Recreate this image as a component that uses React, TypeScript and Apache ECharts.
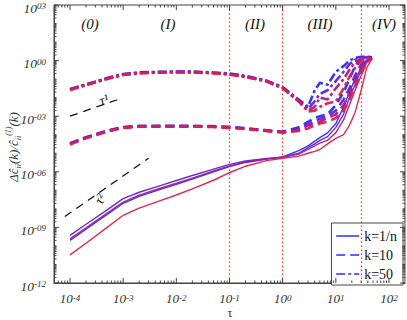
import React, { useEffect, useRef } from 'react';
import * as echarts from 'echarts';

// time grid (tau)
const TAU = [1e-4, 2e-4, 5e-4, 1e-3, 2e-3, 5e-3, 1e-2, 2e-2, 5e-2, 0.1, 0.2, 0.5, 1, 2, 3, 4, 5, 7, 10, 14, 18, 23, 30, 38, 48];

// k = 1/n (solid)
const SOLID_BLUE = [2e-10, 7.9e-10, 5e-9, 2e-8, 4.7e-8, 1.12e-7, 2.1e-7, 4e-7, 1e-6, 1.9e-6, 3.2e-6, 4.8e-6, 6.3e-6, 1.4e-5, 2.5e-5, 4.5e-5, 7e-5, 1.26e-4, 4e-4, 3.2e-3, 2e-2, 0.1, 0.4, 1.1, 1.4];
const SOLID_PURPLE = [3.7e-10, 1.48e-9, 8.9e-9, 3.55e-8, 7.9e-8, 1.8e-7, 3.4e-7, 6.3e-7, 1.4e-6, 2.5e-6, 3.8e-6, 5.2e-6, 6e-6, 1e-5, 2e-5, 3.2e-5, 5e-5, 7.9e-5, 2.5e-4, 1.3e-3, 1e-2, 5e-2, 0.32, 1, 1.4];
const SOLID_MAGENTA = [2.4e-10, 9.5e-10, 6e-9, 2.3e-8, 5.5e-8, 1.3e-7, 2.4e-7, 4.6e-7, 1.1e-6, 2.1e-6, 3.4e-6, 5e-6, 6.3e-6, 9e-6, 1.6e-5, 2.5e-5, 3.5e-5, 5e-5, 1.3e-4, 6.3e-4, 4e-3, 2.5e-2, 0.16, 0.8, 1.4];
const SOLID_RED = [3.3e-11, 1.4e-10, 1e-9, 4.5e-9, 1.1e-8, 2.8e-8, 5.6e-8, 1.2e-7, 3.5e-7, 8.9e-7, 2e-6, 4e-6, 5.4e-6, 7e-6, 1e-5, 1.26e-5, 1.6e-5, 3.2e-5, 6.3e-5, 1e-4, 3.2e-4, 1.6e-3, 2.5e-2, 0.4, 1.26];

// k = 10 (dashed)
const DASH_BLUE = [3.5e-5, 7.4e-5, 1.7e-4, 2.6e-4, 3e-4, 3.05e-4, 3.05e-4, 3.05e-4, 2.9e-4, 2.65e-4, 2.25e-4, 1.75e-4, 1.45e-4, 2.5e-4, 5e-4, 8e-4, 1e-3, 1.26e-3, 4e-3, 2e-2, 0.1, 0.5, 1.26, 1.6, 1.5];
const DASH_PURPLE = [3.3e-5, 7e-5, 1.6e-4, 2.5e-4, 2.85e-4, 2.9e-4, 2.9e-4, 2.9e-4, 2.75e-4, 2.5e-4, 2.15e-4, 1.66e-4, 1.4e-4, 2e-4, 3.5e-4, 5.6e-4, 7e-4, 1e-3, 2e-3, 8e-3, 3.2e-2, 0.16, 0.63, 1.26, 1.4];
const DASH_MAGENTA = [3.2e-5, 6.8e-5, 1.55e-4, 2.45e-4, 2.8e-4, 2.85e-4, 2.85e-4, 2.85e-4, 2.7e-4, 2.45e-4, 2.1e-4, 1.62e-4, 1.35e-4, 1.8e-4, 3.2e-4, 4e-4, 5e-4, 8e-4, 1.26e-3, 4e-3, 1.6e-2, 8e-2, 0.4, 1, 1.4];
const DASH_RED = [3e-5, 6.5e-5, 1.5e-4, 2.35e-4, 2.7e-4, 2.75e-4, 2.75e-4, 2.75e-4, 2.6e-4, 2.35e-4, 2e-4, 1.58e-4, 1.3e-4, 1.6e-4, 2.2e-4, 3.2e-4, 4e-4, 5e-4, 8e-4, 2e-3, 8e-3, 4e-2, 0.2, 0.8, 1.3];

// k = 50 (dash-dot)
const DDOT_BLUE = [2.9e-2, 5.2e-2, 0.115, 0.19, 0.23, 0.25, 0.255, 0.255, 0.23, 0.2, 0.15, 8.3e-2, 3.7e-2, 7.9e-3, 3.2e-3, 2.5e-2, 6.3e-2, 5e-2, 0.25, 0.5, 1, 1.4, 1.6, 1.6, 1.5];
const DDOT_PURPLE = [2.8e-2, 5e-2, 0.11, 0.18, 0.22, 0.24, 0.245, 0.245, 0.22, 0.19, 0.14, 7.9e-2, 3.5e-2, 7e-3, 2.5e-3, 6.3e-3, 1.6e-2, 2.5e-2, 7.9e-2, 0.25, 0.63, 1.1, 1.4, 1.5, 1.45];
const DDOT_MAGENTA = [2.7e-2, 4.9e-2, 0.107, 0.175, 0.215, 0.235, 0.24, 0.24, 0.215, 0.185, 0.135, 7.7e-2, 3.4e-2, 6.3e-3, 2e-3, 3.2e-3, 1e-2, 7.9e-3, 3.2e-2, 0.1, 0.32, 0.8, 1.26, 1.4, 1.4];
const DDOT_RED = [2.6e-2, 4.7e-2, 0.103, 0.17, 0.205, 0.225, 0.23, 0.23, 0.205, 0.175, 0.13, 7.4e-2, 3.2e-2, 6.3e-3, 1.8e-3, 2e-3, 3.2e-3, 5e-3, 6.3e-3, 3.2e-2, 0.13, 0.4, 1, 1.3, 1.38];

// reference slopes
const REF1_TAU = [1e-4, 9e-4];
const REF1_VAL = [1e-3, 9e-3];
const REF2_TAU = [8e-5, 3e-3];
const REF2_VAL = [3.84e-9, 5.4e-6];

// regime boundaries and labels
const REGION_BOUNDS = [1e-3, 1e-1, 1, 30];
const REGION_LABELS = ['(0)', '(I)', '(II)', '(III)', '(IV)'];

// axes
const X_MIN = 5e-5;
const X_MAX = 200;
const Y_MIN = 1e-12;
const Y_MAX = 1e3;
const X_MAJOR = [1e-4, 1e-3, 1e-2, 1e-1, 1, 10, 100];
const Y_LABELED = [1e-12, 1e-9, 1e-6, 1e-3, 1, 1e3];
const LEGEND_NAMES = ['k=1/n', 'k=10', 'k=50'];
const COLORS = ['#2b2bff', '#6a1fd6', '#a51c8c', '#dc1e4c'];

const SERIF = 'Liberation Serif, DejaVu Serif, serif';

function minorTicks(lo: number, hi: number, eFrom: number, eTo: number, skip: number[]) {
  const out: number[] = [];
  for (let e = eFrom; e <= eTo; e++) {
    for (let m = 1; m <= 9; m++) {
      const v = m * Math.pow(10, e);
      if (v <= lo * 1.0001 || v >= hi * 0.9999) continue;
      if (skip.some((s) => Math.abs(Math.log10(s) - Math.log10(v)) < 1e-6)) continue;
      out.push(v);
    }
  }
  return out;
}

const X_MINOR = minorTicks(X_MIN, X_MAX, -5, 2, X_MAJOR);
const Y_MINOR = minorTicks(Y_MIN, Y_MAX, -12, 2, Y_LABELED);

function fmtY(v: number) {
  const e = Math.round(Math.log10(v));
  const s = String(Math.abs(e)).padStart(2, '0');
  return (e < 0 ? '-' : '') + s;
}

const labelRich = {
  b: { fontFamily: SERIF, fontStyle: 'italic', fontSize: 13.5, lineHeight: 13, fill: '#333', color: '#333' },
  s: { fontFamily: SERIF, fontStyle: 'italic', fontSize: 9, lineHeight: 9, verticalAlign: 'top', fill: '#333', color: '#333' },
};
const xLabelRich = {
  b: { ...labelRich.b, fontSize: 13, lineHeight: 11 },
  s: { ...labelRich.s, lineHeight: 8 },
};

function mkLine(name: string, vals: number[], color: string, kind: string) {
  return {
    type: 'line',
    name,
    data: TAU.map((t, i) => [t, vals[i]]),
    showSymbol: false,
    symbol: 'none',
    silent: true,
    itemStyle: { color },
    lineStyle: {
      color,
      width: kind === 'solid' ? 1.4 : 2.6,
      type: kind === 'solid' ? 'solid' : kind === 'dashed' ? [9, 5] : [9, 3, 3, 3],
      opacity: 0.95,
    },
    z: 3,
  };
}

function buildOption() {
  const groups = [
    { name: LEGEND_NAMES[0], kind: 'solid', sets: [SOLID_BLUE, SOLID_PURPLE, SOLID_MAGENTA, SOLID_RED] },
    { name: LEGEND_NAMES[1], kind: 'dashed', sets: [DASH_BLUE, DASH_PURPLE, DASH_MAGENTA, DASH_RED] },
    { name: LEGEND_NAMES[2], kind: 'dashdot', sets: [DDOT_BLUE, DDOT_PURPLE, DDOT_MAGENTA, DDOT_RED] },
  ];
  const series: any[] = [];
  groups.forEach((g) => g.sets.forEach((s, i) => series.push(mkLine(g.name, s, COLORS[i], g.kind))));

  series.push({
    type: 'line',
    name: 'ref1',
    data: REF1_TAU.map((t, i) => [t, REF1_VAL[i]]),
    showSymbol: false,
    symbol: 'none',
    silent: true,
    lineStyle: { color: '#111', width: 1.3, type: [8, 6] },
    z: 2,
    markLine: {
      silent: true,
      symbol: 'none',
      label: { show: false },
      lineStyle: { color: '#ff2a2a', width: 1.2, type: [1.5, 2.5] },
      data: REGION_BOUNDS.map((v) => ({ xAxis: v })),
    },
  });
  series.push({
    type: 'line',
    name: 'ref2',
    data: REF2_TAU.map((t, i) => [t, REF2_VAL[i]]),
    showSymbol: false,
    symbol: 'none',
    silent: true,
    lineStyle: { color: '#111', width: 1.3, type: [8, 6] },
    z: 2,
  });

  // ticks on all four sides (x)
  const xTickData = [...X_MAJOR.map((v) => [v, Y_MIN, 1]), ...X_MINOR.map((v) => [v, Y_MIN, 0])];
  series.push({
    type: 'custom',
    name: 'xticks',
    silent: true,
    clip: false,
    z: 6,
    encode: { x: 0, y: 1 },
    data: xTickData,
    renderItem: (_p: any, api: any) => {
      const v = api.value(0);
      const major = api.value(2) === 1;
      const len = major ? 5 : 2.5;
      const b = api.coord([v, Y_MIN]);
      const t = api.coord([v, Y_MAX]);
      const st = { stroke: '#444', lineWidth: 1 };
      return {
        type: 'group',
        children: [
          { type: 'line', shape: { x1: b[0], y1: b[1], x2: b[0], y2: b[1] - len }, style: st },
          { type: 'line', shape: { x1: t[0], y1: t[1], x2: t[0], y2: t[1] + len }, style: st },
        ],
      };
    },
  });

  // ticks and labels (y)
  const yTickData = [...Y_LABELED.map((v) => [X_MIN, v, 1]), ...Y_MINOR.map((v) => [X_MIN, v, 0])];
  series.push({
    type: 'custom',
    name: 'yticks',
    silent: true,
    clip: false,
    z: 6,
    encode: { x: 0, y: 1 },
    data: yTickData,
    renderItem: (_p: any, api: any) => {
      const v = api.value(1);
      const major = api.value(2) === 1;
      const len = major ? 5 : 2.5;
      const l = api.coord([X_MIN, v]);
      const r = api.coord([X_MAX, v]);
      const st = { stroke: '#444', lineWidth: 1 };
      const children: any[] = [
        { type: 'line', shape: { x1: l[0], y1: l[1], x2: l[0] + len, y2: l[1] }, style: st },
        { type: 'line', shape: { x1: r[0], y1: r[1], x2: r[0] - len, y2: r[1] }, style: st },
      ];
      if (major) {
        children.push({
          type: 'text',
          x: l[0] - 8,
          y: l[1] + 3,
          style: {
            text: `{b|10}{s|${fmtY(v)}}`,
            rich: labelRich,
            align: 'right',
            verticalAlign: 'middle',
            textAlign: 'right',
            textVerticalAlign: 'middle',
          },
        });
      }
      return { type: 'group', children };
    },
  });

  const regionX = [90, 168, 255, 320, 384];
  const graphic: any[] = REGION_LABELS.map((t, i) => ({
    type: 'text',
    x: regionX[i],
    y: 24,
    silent: true,
    style: {
      text: t,
      fontFamily: SERIF,
      fontStyle: 'italic',
      fontSize: 15,
      fill: '#111',
      align: 'center',
      verticalAlign: 'middle',
    },
  }));
  graphic.push({
    type: 'text',
    x: 104,
    y: 100,
    rotation: 0.35,
    silent: true,
    style: { text: 'τ¹', fontFamily: SERIF, fontStyle: 'italic', fontSize: 14, fill: '#111', align: 'center', verticalAlign: 'middle' },
  });
  graphic.push({
    type: 'text',
    x: 100,
    y: 199,
    rotation: 1.1,
    silent: true,
    style: { text: 'τ²', fontFamily: SERIF, fontStyle: 'italic', fontSize: 14, fill: '#111', align: 'center', verticalAlign: 'middle' },
  });
  graphic.push({
    type: 'text',
    x: 230,
    y: 313,
    silent: true,
    style: { text: 'τ', fontFamily: SERIF, fontSize: 12, fill: '#333', align: 'center', verticalAlign: 'middle' },
  });
  const yr = {
    m: { fontFamily: SERIF, fontStyle: 'italic', fontSize: 13, lineHeight: 18, fill: '#333' },
    sb: { fontFamily: SERIF, fontStyle: 'italic', fontSize: 8, lineHeight: 18, verticalAlign: 'bottom', fill: '#333' },
    sp: { fontFamily: SERIF, fontStyle: 'italic', fontSize: 8, lineHeight: 18, verticalAlign: 'top', fill: '#333' },
  };
  graphic.push({
    type: 'text',
    x: 13,
    y: 147,
    rotation: Math.PI / 2,
    silent: true,
    style: {
      text: '{m|Δĉ}{sb|ii}{m|(k)/ĉ}{sb|ii}{sp|(1)}{m|(k)}',
      rich: yr,
      align: 'center',
      verticalAlign: 'middle',
    },
  });

  return {
    animation: false,
    backgroundColor: '#fff',
    grid: { left: 54, right: 2, top: 5, bottom: 37, containLabel: false, show: true, borderColor: '#444', borderWidth: 1 },
    xAxis: {
      type: 'log',
      logBase: 10,
      min: X_MIN,
      max: X_MAX,
      axisLine: { show: true, lineStyle: { color: '#444' } },
      axisTick: { show: false },
      splitLine: { show: false },
      minorTick: { show: false },
      axisLabel: {
        showMinLabel: false,
        showMaxLabel: false,
        margin: 10,
        formatter: (v: number) => {
          const lg = Math.log10(v);
          const e = Math.round(lg);
          if (Math.abs(lg - e) > 1e-6) return '';
          return `{b|10}{s|${e}}`;
        },
        rich: xLabelRich,
      },
    },
    yAxis: {
      type: 'log',
      logBase: 10,
      min: Y_MIN,
      max: Y_MAX,
      axisLine: { show: true, lineStyle: { color: '#444' } },
      axisTick: { show: false },
      splitLine: { show: false },
      minorTick: { show: false },
      axisLabel: { show: false },
    },
    legend: {
      data: LEGEND_NAMES,
      orient: 'vertical',
      right: 4,
      top: 223,
      itemWidth: 23,
      itemHeight: 10,
      itemGap: 5,
      padding: [6, 6, 4, 4],
      borderColor: '#444',
      borderWidth: 1,
      backgroundColor: '#fff',
      itemStyle: { opacity: 0, borderWidth: 0 },
      lineStyle: { width: 1.5, opacity: 1 },
      textStyle: { fontFamily: SERIF, fontSize: 14, color: '#111' },
      selectedMode: false,
    },
    graphic,
    series,
  };
}

export default function App() {
  const ref = useRef<HTMLDivElement>(null);
  useEffect(() => {
    if (!ref.current) return;
    const chart = echarts.init(ref.current, null, { renderer: 'svg' });
    chart.setOption(buildOption() as any);
    return () => chart.dispose();
  }, []);
  return <div ref={ref} style={{ position: 'absolute', left: 0, top: 0, width: 407, height: 320 }} />;
}
